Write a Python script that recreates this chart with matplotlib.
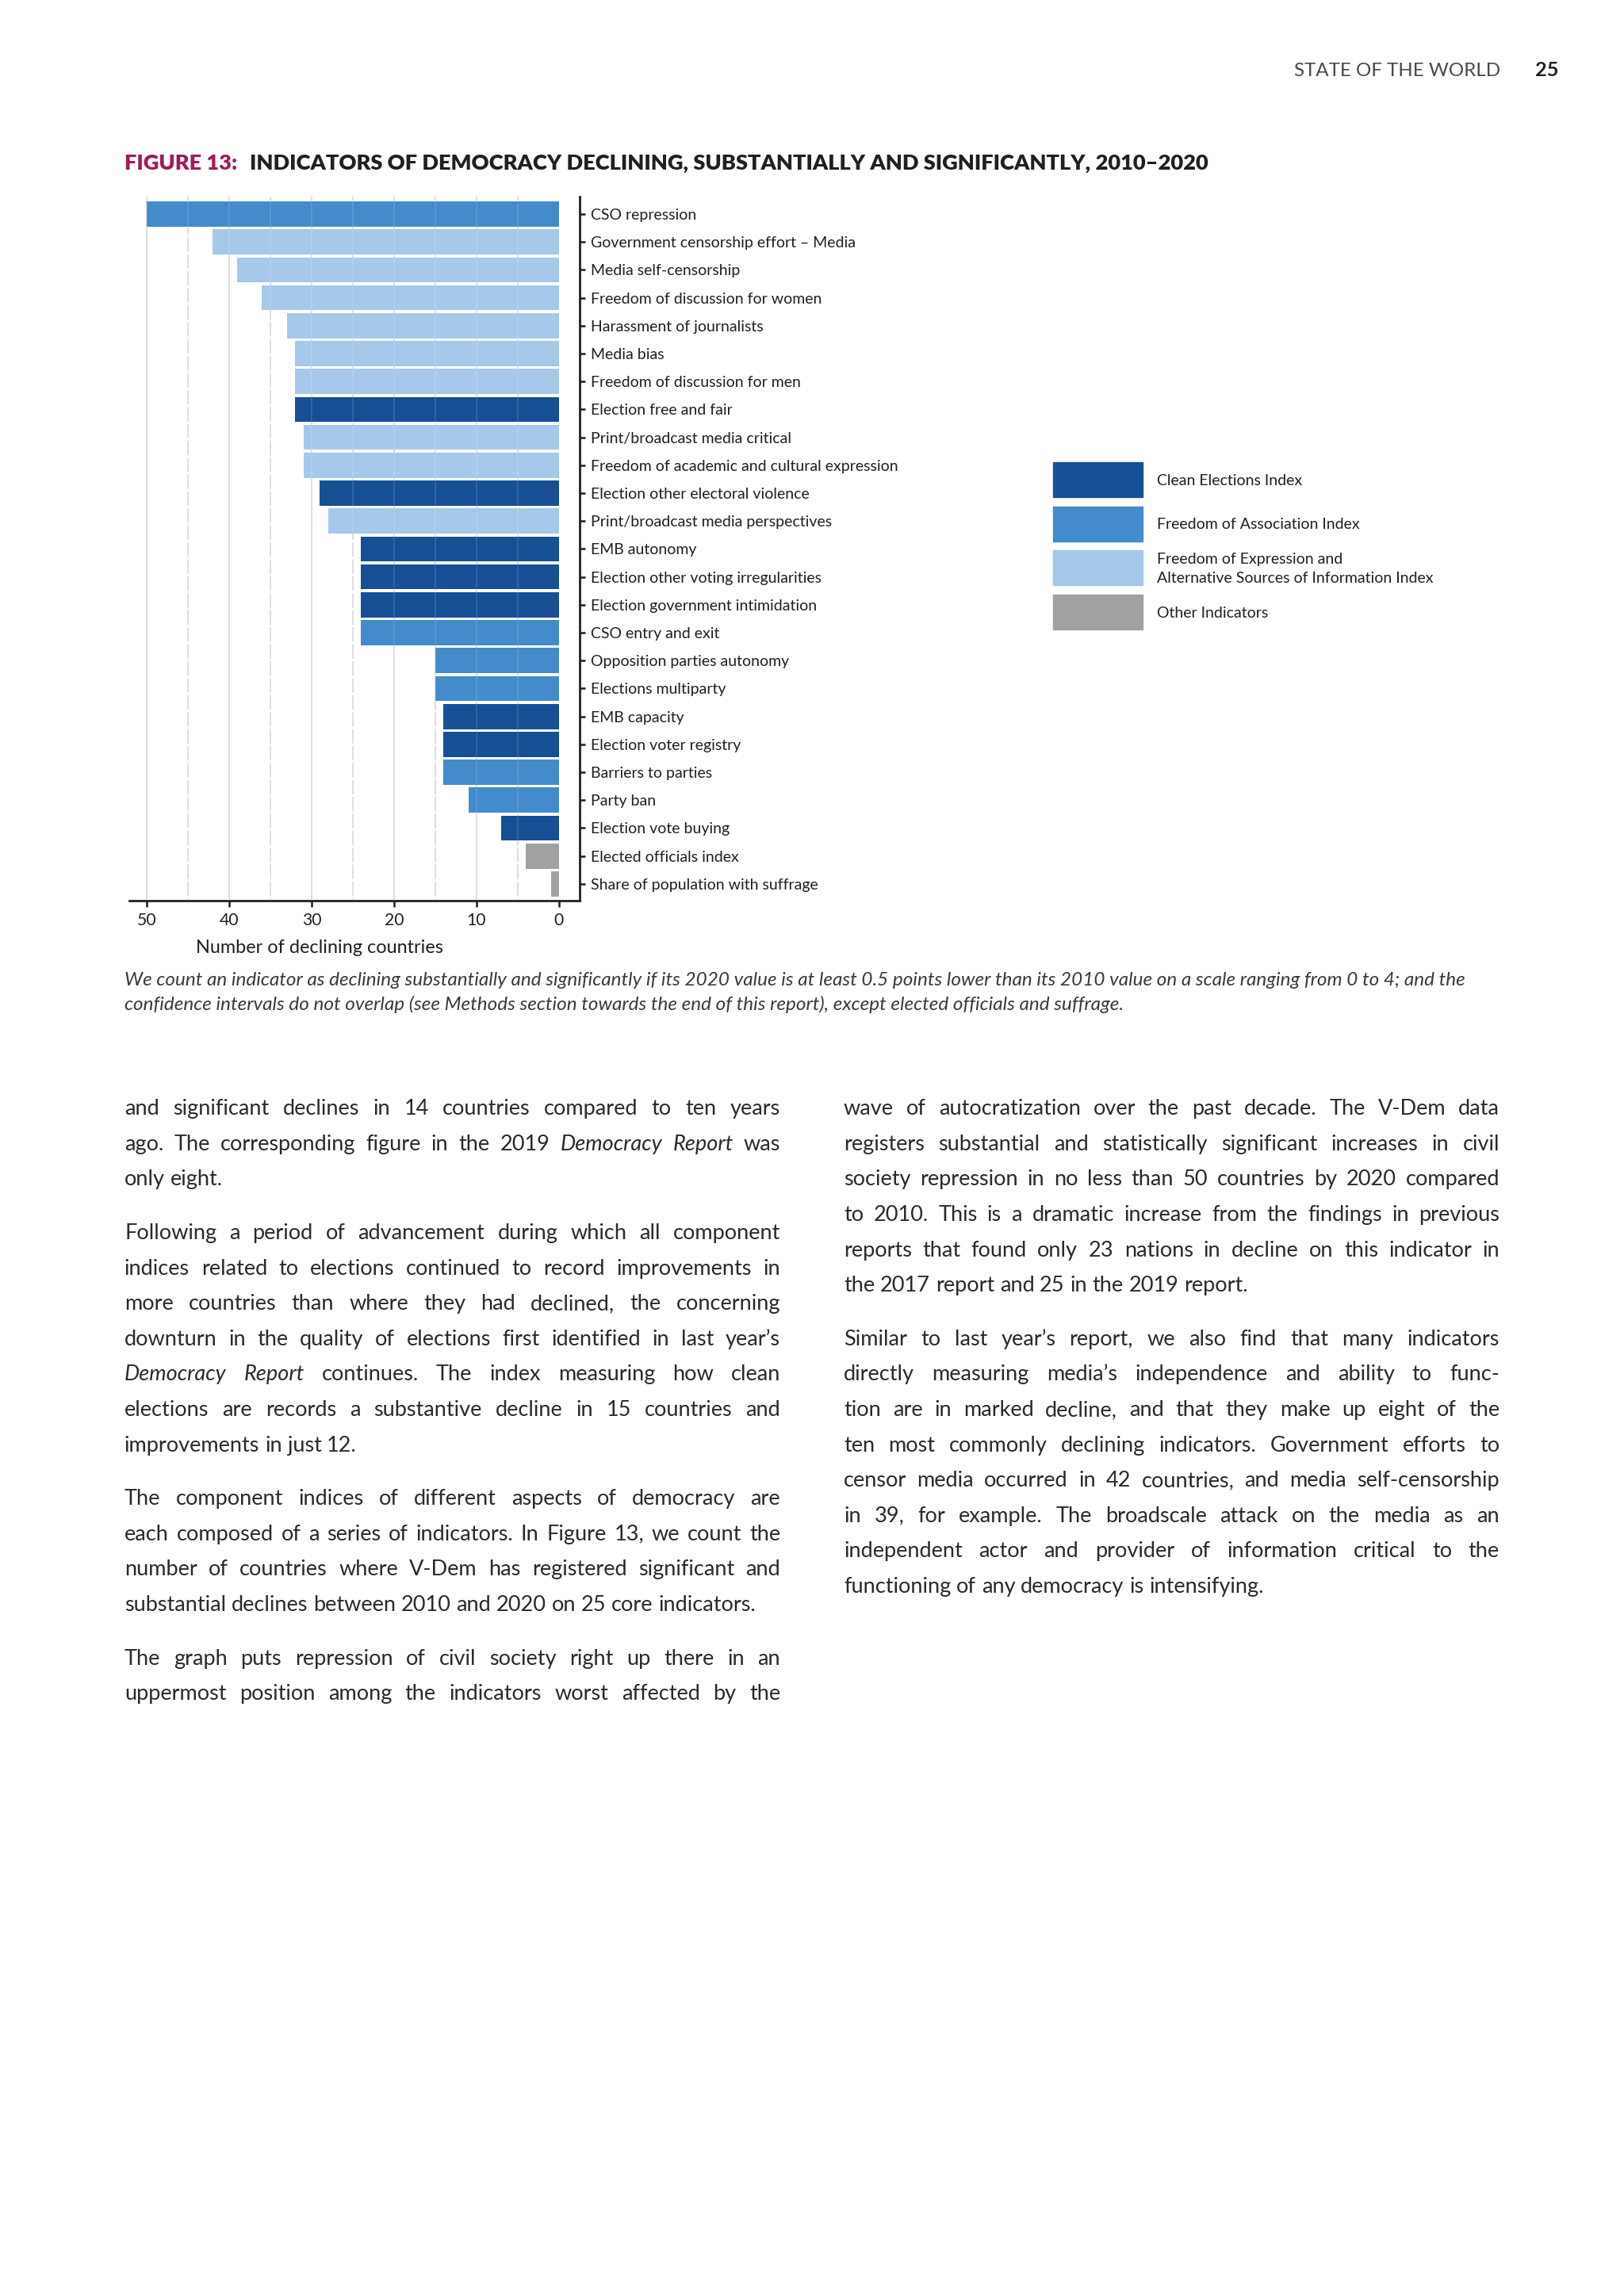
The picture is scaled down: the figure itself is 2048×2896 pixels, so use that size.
import matplotlib
matplotlib.use('Agg')
import numpy as np
import matplotlib.pyplot as plt
from matplotlib.patches import Rectangle

W, H = 2048, 2896
FONT = ['Lato', 'DejaVu Sans']
INK = '#231f20'

# ---- chart data ----
indicators = ['CSO repression', 'Government censorship effort – Media', 'Media self-censorship',
              'Freedom of discussion for women', 'Harassment of journalists', 'Media bias',
              'Freedom of discussion for men', 'Election free and fair', 'Print/broadcast media critical',
              'Freedom of academic and cultural expression', 'Election other electoral violence',
              'Print/broadcast media perspectives', 'EMB autonomy', 'Election other voting irregularities',
              'Election government intimidation', 'CSO entry and exit', 'Opposition parties autonomy',
              'Elections multiparty', 'EMB capacity', 'Election voter registry', 'Barriers to parties',
              'Party ban', 'Election vote buying', 'Elected officials index',
              'Share of population with suffrage']
declines = [50, 42, 39, 36, 33, 32, 32, 32, 31, 31, 29, 28, 24, 24, 24, 24, 15, 15, 14, 14, 14, 11, 7, 4, 1]
groups = ['assoc', 'expr', 'expr', 'expr', 'expr', 'expr', 'expr', 'clean', 'expr', 'expr', 'clean',
          'expr', 'clean', 'clean', 'clean', 'assoc', 'assoc', 'assoc', 'clean', 'clean', 'assoc',
          'assoc', 'clean', 'other', 'other']

group_keys = ['clean', 'assoc', 'expr', 'other']
group_labels = ['Clean Elections Index', 'Freedom of Association Index',
                'Freedom of Expression and\nAlternative Sources of Information Index', 'Other Indicators']
group_colors = {'clean': '#174f95', 'assoc': '#438bca', 'expr': '#a6c8ea', 'other': '#a1a1a2'}

x_ticks = [50, 40, 30, 20, 10, 0]
grid_solid = [50, 40, 30, 20, 10]
grid_dashed = [45, 35, 25, 15, 5]

header = 'STATE OF THE WORLD'
page_no = '25'
fig_no = 'FIGURE 13:'
fig_title = 'INDICATORS OF DEMOCRACY DECLINING, SUBSTANTIALLY AND SIGNIFICANTLY, 2010–2020'
x_label = 'Number of declining countries'
caption = ['We count an indicator as declining substantially and significantly if its 2020 value is at least 0.5 points lower than its 2010 value on a scale ranging from 0 to 4; and the',
           'confidence intervals do not overlap (see Methods section towards the end of this report), except elected officials and suffrage.']

# paragraphs: (lines, paragraph ends on this page)
left_col = [
    (['and significant declines in 14 countries compared to ten years',
      'ago. The corresponding figure in the 2019 *Democracy Report* was',
      'only eight.'], True),
    (['Following a period of advancement during which all component',
      'indices related to elections continued to record improvements in',
      'more countries than where they had declined, the concerning',
      'downturn in the quality of elections first identified in last year’s',
      '*Democracy Report* continues. The index measuring how clean',
      'elections are records a substantive decline in 15 countries and',
      'improvements in just 12.'], True),
    (['The component indices of different aspects of democracy are',
      'each composed of a series of indicators. In Figure 13, we count the',
      'number of countries where V-Dem has registered significant and',
      'substantial declines between 2010 and 2020 on 25 core indicators.'], True),
    (['The graph puts repression of civil society right up there in an',
      'uppermost position among the indicators worst affected by the'], False),
]
right_col = [
    (['wave of autocratization over the past decade. The V-Dem data',
      'registers substantial and statistically significant increases in civil',
      'society repression in no less than 50 countries by 2020 compared',
      'to 2010. This is a dramatic increase from the findings in previous',
      'reports that found only 23 nations in decline on this indicator in',
      'the 2017 report and 25 in the 2019 report.'], True),
    (['Similar to last year’s report, we also find that many indicators',
      'directly measuring media’s independence and ability to func-',
      'tion are in marked decline, and that they make up eight of the',
      'ten most commonly declining indicators. Government efforts to',
      'censor media occurred in 42 countries, and media self-censorship',
      'in 39, for example. The broadscale attack on the media as an',
      'independent actor and provider of information critical to the',
      'functioning of any democracy is intensifying.'], True),
]

fig = plt.figure(figsize=(W / 100, H / 100), dpi=100)
fig.patch.set_facecolor('white')
renderer = fig.canvas.get_renderer()


def fx(px):
    return px / W


def fy(py):
    return 1 - py / H


def text_width(s, size, **kw):
    t = fig.text(0, 0, s, fontsize=size, family=FONT, **kw)
    w = t.get_window_extent(renderer).width
    t.remove()
    return w


def fit_size(s, target, **kw):
    return 20 * target / text_width(s, 20, **kw)


# ---- header ----
hs = fit_size(header, 260)
fig.text(fx(1632), fy(89), header, fontsize=hs, family=FONT, color='#4a4a4a', va='center')
fig.text(fx(1936), fy(89), page_no, fontsize=hs * 1.05, family=FONT, fontweight='bold', color=INK, va='center')

# ---- title ----
ts = fit_size(fig_title, 1214, fontweight='heavy')
fig.text(fx(157), fy(206), fig_no, fontsize=ts, family=FONT, fontweight='heavy', color='#a3195b', va='center')
fig.text(fx(315), fy(206), fig_title, fontsize=ts, family=FONT, fontweight='heavy', color=INK, va='center')

# ---- bar chart ----
ax_l, ax_r, ax_t, ax_b = 163, 731, 248, 1136
ax = fig.add_axes([fx(ax_l), fy(ax_b), (ax_r - ax_l) / W, (ax_b - ax_t) / H])
ypos = np.arange(len(indicators))
ax.vlines(grid_solid, -1, 30, color='#d2d2d2', lw=1.1, zorder=0)
ax.vlines(grid_dashed, -1, 30, color='#d2d2d2', lw=1.1, linestyles=(0, (12, 2)), zorder=0)
ax.barh(ypos, declines, height=0.9, color=[group_colors[g] for g in groups], zorder=2)
ax.vlines(grid_solid + grid_dashed, -1, 30, color='white', lw=1.1, alpha=0.15, zorder=3)
ax.set_xlim(52.1, -2.5)
ax.set_ylim(24.6, -0.625)

ls = fit_size('Freedom of academic and cultural expression', 389)
ax.set_yticks(ypos)
ax.set_yticklabels(indicators, fontsize=ls, family=FONT, color=INK)
ax.yaxis.tick_right()
ax.set_xticks(x_ticks)
ax.set_xticklabels([str(v) for v in x_ticks], fontsize=ls * 1.08, family=FONT, color=INK)
ax.tick_params(axis='y', direction='out', length=5, width=1.8, pad=5, colors=INK, labelcolor=INK)
ax.tick_params(axis='x', direction='out', length=6, width=1.8, pad=5, colors=INK, labelcolor=INK)
for side in ['left', 'top']:
    ax.spines[side].set_visible(False)
for side in ['bottom', 'right']:
    ax.spines[side].set_linewidth(2.0)
    ax.spines[side].set_color(INK)

xs = fit_size(x_label, 314)
fig.text(fx(403), fy(1195), x_label, fontsize=xs, family=FONT, color=INK, ha='center', va='center')

# ---- legend ----
for i, (k, lab) in enumerate(zip(group_keys, group_labels)):
    top = 583 + i * 55.7
    fig.patches.append(Rectangle((fx(1328), fy(top + 44)), 113 / W, 44 / H,
                                 transform=fig.transFigure, color=group_colors[k]))
    fig.text(fx(1459), fy(top + 23), lab, fontsize=ls, family=FONT, color=INK,
             va='center', linespacing=1.55)

# ---- caption ----
cs = fit_size(caption[0], 1693, fontstyle='italic')
for i, line in enumerate(caption):
    fig.text(fx(157), fy(1237 + i * 30), line, fontsize=cs, family=FONT, fontstyle='italic',
             color='#3a3a3a', va='center')


# ---- body text, justified ----
def split_words(line):
    out, ital = [], False
    for w in line.split(' '):
        if w.startswith('*'):
            ital = True
            w = w[1:]
        end = w.endswith('*')
        if end:
            w = w[:-1]
        out.append((w, ital))
        if end:
            ital = False
    return out


def body_size(cols, width):
    best = 30.0
    for col in cols:
        for lines, _ in col:
            for line in lines:
                words = split_words(line)
                nat = sum(text_width(w, 20, fontstyle='italic' if it else 'normal') for w, it in words)
                min_gap = 0.09 * 20 * 100 / 72
                s = 20 * width / (nat + (len(words) - 1) * min_gap)
                best = min(best, s)
    return best


COLW = 827
bs = min(body_size([left_col, right_col], COLW), 19.5)
space = 0.25 * bs * 100 / 72


def draw_column(col, x0, y0, pitch, gap):
    y = y0
    for lines, closed in col:
        for i, line in enumerate(lines):
            words = split_words(line)
            objs = [fig.text(0, fy(y + 0.3 * bs * 100 / 72), w, fontsize=bs, family=FONT,
                             fontstyle='italic' if it else 'normal', color='#2a2a2a', va='baseline')
                    for w, it in words]
            widths = [o.get_window_extent(renderer).width for o in objs]
            last = closed and i == len(lines) - 1
            g = space if last or len(objs) < 2 else (COLW - sum(widths)) / (len(objs) - 1)
            x = x0
            for o, w in zip(objs, widths):
                o.set_x(fx(x))
                x += w + g
            y += pitch
        y += gap


draw_column(left_col, 157, 1398, 44.6, 23)
draw_column(right_col, 1064, 1398, 44.6, 23)

fig.savefig('out.png', dpi=100, facecolor='white')
